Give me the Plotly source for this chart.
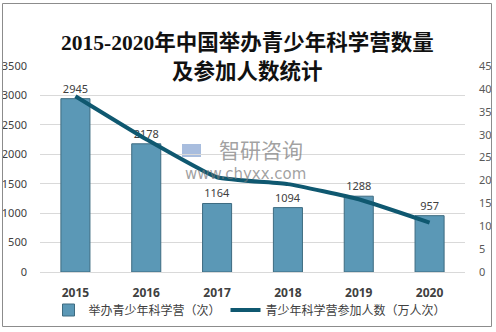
import plotly.graph_objects as go

years = ["2015", "2016", "2017", "2018", "2019", "2020"]
camps = [2945, 2178, 1164, 1094, 1288, 957]
participants = [38.4, 29.0, 20.7, 19.2, 15.9, 10.8]

bar_name = "举办青少年科学营（次）"
line_name = "青少年科学营参加人数（万人次）"
title_line1 = "2015-2020年中国举办青少年科学营数量"
title_line2 = "及参加人数统计"

W, H = 496, 332
L, R, T, B = 40, 31, 66, 60
pw, ph = W - L - R, H - T - B

def px_x(x):
    return (x - L) / pw

def px_y(y):
    return (H - B - y) / ph

fig = go.Figure()
fig.add_trace(go.Bar(
    x=years, y=camps, name=bar_name, width=0.41,
    marker=dict(color="#5b98b6", line=dict(color="#3d6b80", width=1)),
    text=[str(v) for v in camps], textposition="outside",
    textfont=dict(size=11, color="#404040", family="Noto Sans, Noto Sans CJK SC"),
    cliponaxis=False,
))
fig.add_trace(go.Scatter(
    x=years, y=participants, name=line_name, yaxis="y2", mode="lines",
    line=dict(color="#0f5870", width=4, shape="spline", smoothing=0.4),
))

font_cjk = "Noto Sans, Noto Sans CJK SC"
title_font = dict(size=21.5, color="#111111", family="Liberation Serif, Noto Sans CJK SC")

fig.update_layout(
    width=W, height=H, autosize=False,
    margin=dict(l=L, r=R, t=T, b=B, autoexpand=False),
    paper_bgcolor="white", plot_bgcolor="white",
    showlegend=True,
    legend=dict(orientation="h", x=px_x(250), xanchor="center", y=px_y(310), yanchor="middle",
                font=dict(size=12, color="#404040", family=font_cjk),
                bgcolor="rgba(0,0,0,0)", itemwidth=30, tracegroupgap=0),
    bargap=0.59,
    xaxis=dict(showgrid=False, showline=True, linecolor="#d9d9d9", linewidth=1,
               ticks="", tickfont=dict(size=12, color="#404040", family="Noto Sans, Noto Sans CJK SC"),
               ticklabelstandoff=10, tickprefix="<b>", ticksuffix="</b>", automargin=False),
    yaxis=dict(range=[0, 3500], dtick=500, showgrid=True, gridcolor="#d9d9d9", gridwidth=1,
               zeroline=False, showline=False, ticks="",
               tickfont=dict(size=11, color="#404040", family=font_cjk),
               ticklabelstandoff=12, automargin=False),
    yaxis2=dict(range=[0, 45], dtick=5, overlaying="y", side="right", showgrid=False,
                zeroline=False, showline=False, ticks="",
                tickfont=dict(size=11, color="#595959", family=font_cjk),
                ticklabelstandoff=13, automargin=False),
)

# Title (two lines)
fig.add_annotation(text="<b>" + title_line1 + "</b>", xref="paper", yref="paper",
                   x=px_x(247), y=px_y(29), showarrow=False, font=title_font)
fig.add_annotation(text="<b>" + title_line2 + "</b>", xref="paper", yref="paper",
                   x=px_x(247), y=px_y(57), showarrow=False, font=title_font)

# Watermark
fig.add_annotation(text="智研咨询", xref="paper", yref="paper", x=px_x(261), y=px_y(149),
                   showarrow=False, borderpad=0,
                   font=dict(size=21, color="rgba(120,120,120,0.7)", family="Noto Sans CJK SC"))
fig.add_annotation(text="www.chyxx.com", xref="paper", yref="paper", x=px_x(245), y=px_y(174),
                   showarrow=False, borderpad=0,
                   font=dict(size=15, color="rgba(120,120,120,0.7)", family="DejaVu Sans"))
fig.add_shape(type="rect", xref="paper", yref="paper", x0=px_x(182), x1=px_x(201), y0=px_y(157), y1=px_y(144),
              line=dict(width=0), fillcolor="rgba(110,145,200,0.6)", layer="below")

# Outer frame
fig.add_shape(type="rect", xref="paper", yref="paper",
              x0=px_x(2.5), x1=px_x(491.5), y0=px_y(326.5), y1=px_y(3.5),
              line=dict(color="#8c8c8c", width=1), fillcolor="rgba(0,0,0,0)")

fig.write_html("out.html")
